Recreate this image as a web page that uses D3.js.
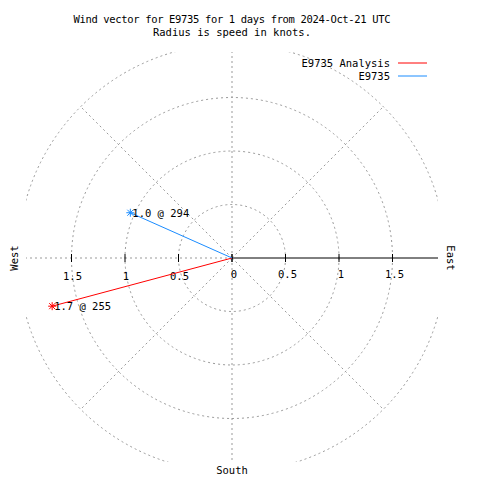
<!DOCTYPE html>
<html><head><meta charset="utf-8">
<script src="https://cdn.jsdelivr.net/npm/d3@7"></script>
<style>body{margin:0;background:#fff}svg{display:block}text{font-family:"DejaVu Sans Mono",monospace;font-size:10.5px;fill:#000}</style>
</head><body>
<script>
// data
const seriesNames = ["E9735 Analysis", "E9735"];
const seriesColors = ["#ff0000", "#1a8cff"];
const speeds = [1.74, 1.04];        // knots
const directions = [255, 294];      // degrees
const gridRadii = [0.5, 1, 1.5, 2];
const tickValues = [0, 0.5, 1, 1.5];
const titleLines = ["Wind vector for E9735 for 1 days from 2024-Oct-21 UTC", "Radius is speed in knots."];

const W = 480, H = 480, cx = 232, cy = 258;
const clip = {x0: 26, x1: 438, y0: 52, y1: 462};
const r = d3.scaleLinear().domain([0, 1]).range([0, 107]);
const svg = d3.select("body").append("svg").attr("width", W).attr("height", H);

svg.append("defs").append("clipPath").attr("id", "cp").append("rect")
  .attr("x", clip.x0).attr("y", clip.y0).attr("width", clip.x1 - clip.x0).attr("height", clip.y1 - clip.y0);

const g = svg.append("g").attr("clip-path", "url(#cp)");
const grid = "#999999";
// circles
g.selectAll("circle.grid").data(gridRadii).join("circle")
  .attr("cx", cx).attr("cy", cy).attr("r", d => r(d))
  .attr("fill", "none").attr("stroke", grid).attr("stroke-dasharray", "2,3");
// radial lines
const angles = [0, 45, 135, 180, 225, 270, 315];
g.selectAll("line.rad").data(angles).join("line")
  .attr("x1", cx).attr("y1", cy)
  .attr("x2", a => cx + r(2) * Math.sin(a * Math.PI / 180))
  .attr("y2", a => cy - r(2) * Math.cos(a * Math.PI / 180))
  .attr("stroke", grid).attr("stroke-dasharray", "2,3");
// black axis east
g.append("line").attr("x1", cx).attr("y1", cy).attr("x2", clip.x1).attr("y2", cy).attr("stroke", "#000");
// ticks
const tk = [...tickValues.map(v => -v), ...tickValues];
svg.selectAll("line.tk").data(tk).join("line")
  .attr("x1", d => cx + r(d)).attr("x2", d => cx + r(d)).attr("y1", cy - 4).attr("y2", cy + 4).attr("stroke", "#000");
// tick labels
const fmt = d => d3.format("")(d);
svg.selectAll("text.tl").data(tickValues.filter(d => d > 0)).join("text")
  .attr("x", d => cx - r(d) + 1).attr("y", 280).attr("text-anchor", "middle").text(fmt);
svg.selectAll("text.tr").data(tickValues).join("text")
  .attr("x", d => cx + r(d) + 2).attr("y", 278).attr("text-anchor", "middle").text(fmt);
// vectors
const vecs = speeds.map((s, i) => ({s, d: directions[i], c: seriesColors[i]}));
const pt = v => [cx + r(v.s) * Math.sin(v.d * Math.PI / 180), cy - r(v.s) * Math.cos(v.d * Math.PI / 180)];
vecs.forEach(v => {
  const [x, y] = pt(v);
  svg.append("line").attr("x1", cx).attr("y1", cy).attr("x2", x).attr("y2", y).attr("stroke", v.c);
  const s = 4;
  const star = svg.append("g").attr("stroke", v.c);
  star.append("line").attr("x1", x - s).attr("x2", x + s).attr("y1", y).attr("y2", y);
  star.append("line").attr("x1", x).attr("x2", x).attr("y1", y - s).attr("y2", y + s);
  star.append("line").attr("x1", x - s + 1).attr("x2", x + s - 1).attr("y1", y - s + 1).attr("y2", y + s - 1);
  star.append("line").attr("x1", x - s + 1).attr("x2", x + s - 1).attr("y1", y + s - 1).attr("y2", y - s + 1);
  svg.append("text").attr("x", x + 2).attr("y", y + 4).text(d3.format(".1f")(v.s) + " @ " + v.d);
});
// title
svg.selectAll("text.title").data(titleLines).join("text")
  .attr("x", 232).attr("y", (d, i) => 23 + i * 13).attr("text-anchor", "middle")
  .attr("textLength", (d, i) => i === 0 ? 317 : null).text(d => d);
// legend
seriesNames.forEach((n, i) => {
  const y = 63 + i * 13;
  svg.append("text").attr("x", 390).attr("y", y + 4).attr("text-anchor", "end").text(n);
  svg.append("line").attr("x1", 398).attr("x2", 427).attr("y1", y).attr("y2", y).attr("stroke", seriesColors[i]);
});
// compass labels
svg.append("text").attr("transform", `translate(18,${cy}) rotate(-90)`).attr("text-anchor", "middle").text("West");
svg.append("text").attr("transform", `translate(447,${cy}) rotate(90)`).attr("text-anchor", "middle").text("East");
svg.append("text").attr("x", cx).attr("y", 474).attr("text-anchor", "middle").text("South");
</script>
</body></html>
